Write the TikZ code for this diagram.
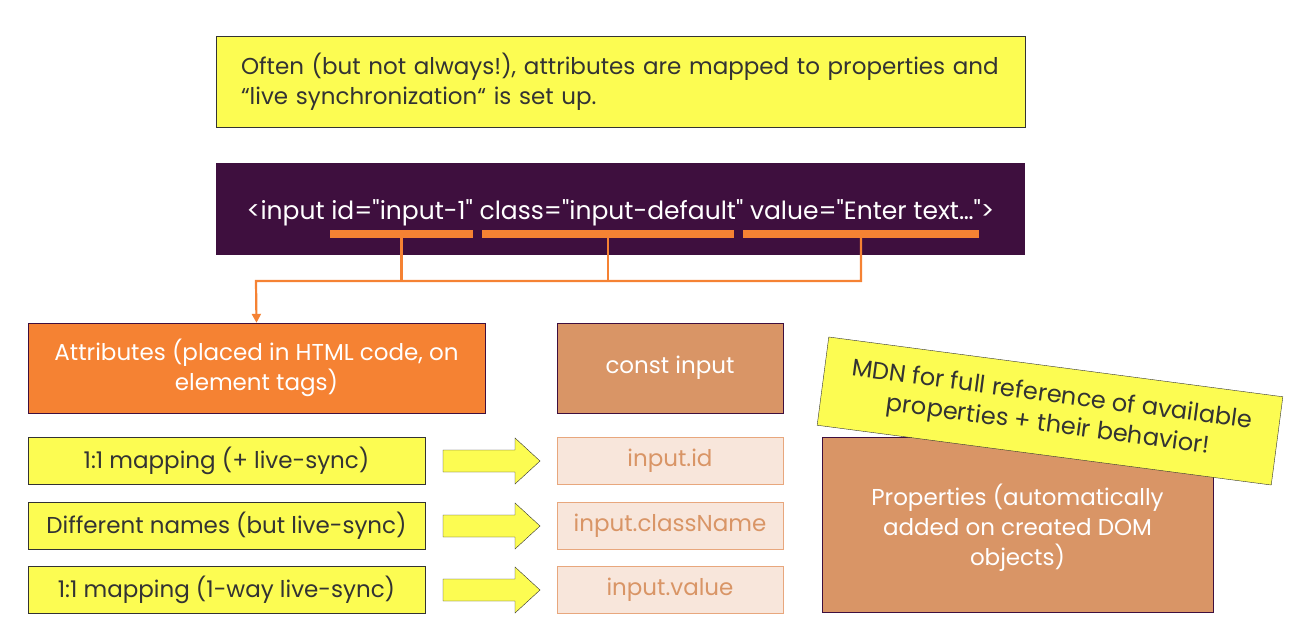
\documentclass[tikz,border=0pt]{standalone}
\usepackage{fontspec}
\setmainfont{Poppins}
\newfontfamily\codefont{Poppins}
\usetikzlibrary{arrows.meta}
\definecolor{hlyellow}{HTML}{FCFC52}
\definecolor{plum}{HTML}{3E0F3E}
\definecolor{attrorange}{HTML}{F58233}
\definecolor{proptan}{HTML}{D99566}
\definecolor{proplight}{HTML}{F8E6DB}
\definecolor{propline}{HTML}{E8A77D}
\definecolor{ink}{HTML}{333333}
\begin{document}
\begin{tikzpicture}[x=1pt, y=-1pt,
    txt/.style={font=\fontsize{23}{30}\selectfont, align=center},
    note/.style={txt, draw=ink, fill=hlyellow, text=ink, inner sep=0pt},
    bar/.style={fill=attrorange, minimum height=8, inner sep=0pt},
    wire/.style={draw=attrorange, line width=2.2pt},
    attrbox/.style={txt, draw=plum, fill=attrorange, text=white, minimum width=457, minimum height=90},
    propbox/.style={txt, draw=plum, fill=proptan, text=white},
    lightbox/.style={txt, draw=propline, fill=proplight, text=proptan, minimum width=226, minimum height=47},
    bigarrow/.style={draw=ink, fill=hlyellow}]
  \useasboundingbox (0,0) rectangle (1294,629);
  % header notes
  \node[note, minimum width=809, minimum height=91, text width=759, align=left] (often) at (620.5,81.5)
    {Often (but not always!), attributes are mapped to properties and\\ “live synchronization“ is set up.};
  \node[txt, fill=plum, text=white, minimum width=809, minimum height=92, text height=20pt, text depth=0pt,
    font=\codefont\fontsize{25}{30}\selectfont] (code) at (620.5,209)
    {<input id="input-1" class="input-default" value="Enter text…">};
  \node[bar, minimum width=143] (bid) at (401.5,234) {};
  \node[bar, minimum width=252] (bclass) at (608,234) {};
  \node[bar, minimum width=236] (bvalue) at (861,234) {};
  % left and middle column heads
  \node[attrbox] (attr) at (256.5,368) {Attributes (placed in HTML code, on\\ element tags)};
  \node[propbox, minimum width=226, minimum height=90] (const) at (670,368) {const input};
  \coordinate (join) at (256,281);
  \draw[wire] (bid.south) -- (bid.south |- join);
  \draw[wire] (bclass.south) -- (bclass.south |- join);
  \draw[wire, -{Triangle[length=9pt, width=9pt]}] (bvalue.south) |- (join) -- (attr.north);
  % mapping rows
  \foreach \y/\m/\p [count=\i] in {461/{1:1 mapping (+ live-sync)}/input.id,
      526/{Different names (but live-sync)}/input.className,
      590/{1:1 mapping (1-way live-sync)}/input.value} {
    \node[note, minimum width=397, minimum height=47] (map\i) at (226.5,\y) {\m};
    \node[lightbox] (prop\i) at (670,\y) {\p};
    \draw[bigarrow] (443,\y-11) -- (515,\y-11) -- (515,\y-23) -- (540,\y)
      -- (515,\y+23) -- (515,\y+11) -- (443,\y+11) -- cycle;
  }
  % properties and MDN hint
  \node[propbox, minimum width=391, minimum height=175, text depth=0pt] (props) at (1017.5,524.5)
    {Properties (automatically\\ added on created DOM\\ objects)};
  \node[note, rotate=-7.5, minimum width=458, minimum height=89, font=\fontsize{24}{30}\selectfont] (mdn) at (1050,411)
    {MDN for full reference of available\\ properties + their behavior!};
\end{tikzpicture}
\end{document}
